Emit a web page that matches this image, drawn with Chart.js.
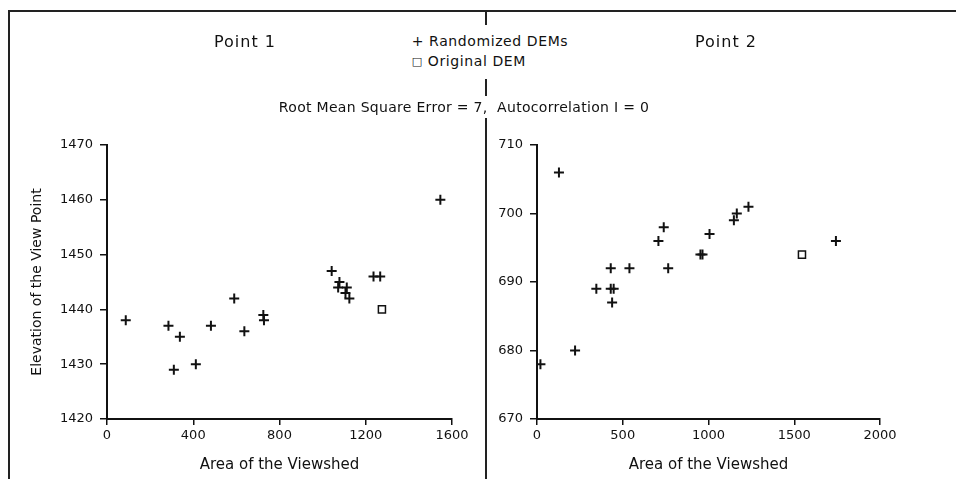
<!DOCTYPE html>
<html>
<head>
<meta charset="utf-8">
<script src="https://cdn.jsdelivr.net/npm/chart.js@4/dist/chart.umd.min.js"></script>
<style>
  html, body { margin:0; padding:0; background:#fff; }
  body { width:956px; height:479px; position:relative; overflow:hidden; font-family:"DejaVu Sans", sans-serif; color:#111; }
  canvas { position:absolute; top:0; }
  .line { position:absolute; background:#222; }
  .txt { position:absolute; transform:translate(-50%,-50%); white-space:nowrap; background:#fff; }
</style>
</head>
<body>
<!-- cadre -->
<div class="line" style="left:8px;top:10px;width:948px;height:2px"></div>
<div class="line" style="left:8px;top:10px;width:2px;height:469px"></div>
<div class="line" style="left:485px;top:10px;width:2px;height:469px"></div>

<canvas id="c1" width="480" height="479" style="left:0"></canvas>
<canvas id="c2" width="470" height="479" style="left:486px"></canvas>

<div class="txt" style="left:245px;top:41px;font-size:16px;letter-spacing:1px;background:none">Point 1</div>
<div class="txt" style="left:726px;top:41px;font-size:16px;letter-spacing:1px;background:none">Point 2</div>
<div class="txt" style="left:490px;top:52px;font-size:14px;letter-spacing:0.6px;line-height:20px;padding:6px 4px;text-align:left">
  <div>+ Randomized DEMs</div>
  <div><span style="font-size:11px;position:relative;top:-1px">&#9633;</span> Original DEM</div>
</div>
<div class="txt" style="left:464px;top:107px;font-size:14px;letter-spacing:0.3px;padding:3px 0">Root Mean Square Error = 7,&nbsp; Autocorrelation I = 0</div>

<script>
// --- Données ---
// Point 1
const p1Area = [87, 285, 310, 338, 412, 482, 590, 637, 725, 728, 1042, 1072, 1078, 1106, 1112, 1124, 1236, 1267, 1546];
const p1Elev = [1438, 1437, 1429, 1435, 1430, 1437, 1442, 1436, 1439, 1438, 1447, 1444, 1445, 1443, 1444, 1442, 1446, 1446, 1460];
const p1OrigArea = [1275];
const p1OrigElev = [1440];
const p1XTicks = [0, 400, 800, 1200, 1600];
const p1YTicks = [1420, 1430, 1440, 1450, 1460, 1470];

// Point 2
const p2Area = [20, 128, 222, 346, 430, 430, 447, 438, 539, 708, 739, 765, 953, 965, 1006, 1148, 1165, 1233, 1743];
const p2Elev = [678, 706, 680, 689, 692, 689, 689, 687, 692, 696, 698, 692, 694, 694, 697, 699, 700, 701, 696];
const p2OrigArea = [1545];
const p2OrigElev = [694];
const p2XTicks = [0, 500, 1000, 1500, 2000];
const p2YTicks = [670, 680, 690, 700, 710];

const ink = '#111';
const tickFont = { family:'DejaVu Sans', size:13 };
const titleFont = { family:'DejaVu Sans', size:15 };

function pts(xs, ys) { return xs.map((x, i) => ({ x, y: ys[i] })); }

function makeChart(id, xs, ys, ox, oy, xTicks, yTicks, yTitle, padRight, yWidth) {
  return new Chart(document.getElementById(id), {
    type:'scatter',
    data:{
      datasets:[
        { label:'Randomized DEMs', data:pts(xs, ys), pointStyle:'cross', pointRadius:5, borderColor:ink, borderWidth:2 },
        { label:'Original DEM', data:pts(ox, oy), pointStyle:'rect', pointRadius:5, borderColor:ink, backgroundColor:'rgba(0,0,0,0)', borderWidth:1.5 }
      ]
    },
    options:{
      responsive:false, animation:false, events:[],
      layout:{ padding:{ top:145, right:padRight, bottom:0, left:0 } },
      plugins:{ legend:{ display:false }, tooltip:{ enabled:false } },
      scales:{
        x:{
          type:'linear', min:xTicks[0], max:xTicks[xTicks.length-1],
          afterFit: s => { s.height = 60; },
          afterBuildTicks: s => { s.ticks = xTicks.map(v => ({ value:v })); },
          ticks:{ color:ink, font:tickFont, padding:3, maxRotation:0, callback: v => String(v) },
          grid:{ drawOnChartArea:false, drawTicks:true, tickLength:6, color:ink, lineWidth:1.5 },
          border:{ color:ink, width:2 },
          title:{ display:true, text:'Area of the Viewshed', color:ink, font:titleFont, padding:{ top:0, bottom:5 } }
        },
        y:{
          type:'linear', min:yTicks[0], max:yTicks[yTicks.length-1],
          afterFit: s => { s.width = yWidth; },
          afterBuildTicks: s => { s.ticks = yTicks.map(v => ({ value:v })); },
          ticks:{ color:ink, font:tickFont, padding:7, callback: v => String(v) },
          grid:{ drawOnChartArea:false, drawTicks:true, tickLength:7, color:ink, lineWidth:1.5 },
          border:{ color:ink, width:2 },
          title:{ display:!!yTitle, text:yTitle, color:ink, font:{ family:'DejaVu Sans', size:14 }, padding:{ top:29, bottom:0 } }
        }
      }
    }
  });
}

makeChart('c1', p1Area, p1Elev, p1OrigArea, p1OrigElev, p1XTicks, p1YTicks, 'Elevation of the View Point', 28, 107);
makeChart('c2', p2Area, p2Elev, p2OrigArea, p2OrigElev, p2XTicks, p2YTicks, '', 470 - 394, 51);
</script>
</body>
</html>
